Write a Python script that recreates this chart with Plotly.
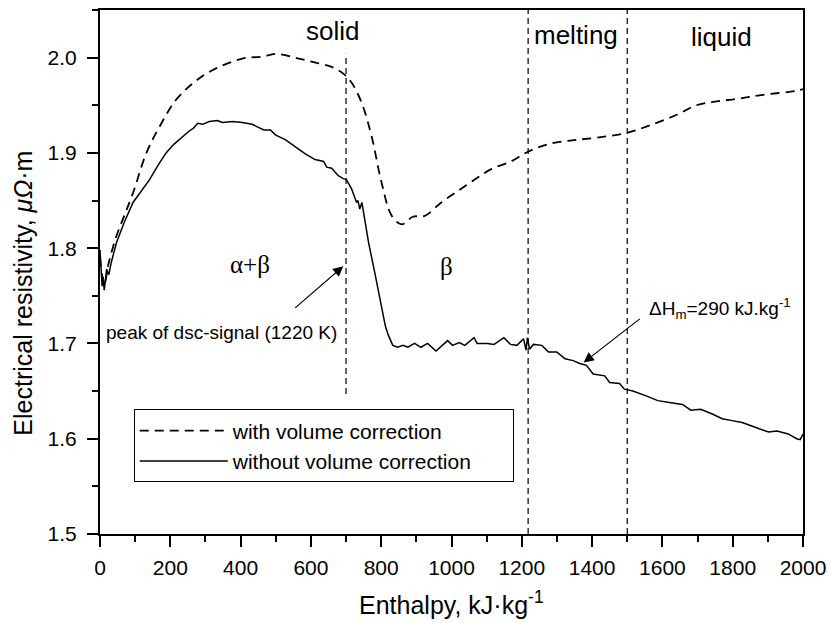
import plotly.graph_objects as go

# ---- data ----
enthalpy_solid = [0, 3, 6, 9, 12, 15, 19, 25, 32, 47, 70, 94, 120, 141, 165, 188, 210, 226, 240, 254,
                  266, 278, 292, 311, 334, 348, 377, 405, 433, 452, 466, 485, 499, 527, 555, 584, 612, 636, 645, 659,
                  678, 692, 701, 716, 725, 730, 734, 739, 745, 752, 764, 783, 801, 812, 820, 833, 847, 862, 876, 895,
                  913, 932, 956, 970, 989, 1003, 1022, 1038, 1050, 1064, 1073, 1102, 1121, 1149, 1168, 1186, 1205, 1212, 1216, 1222,
                  1233, 1257, 1276, 1299, 1323, 1346, 1365, 1384, 1403, 1436, 1450, 1478, 1492, 1516, 1554, 1587, 1620, 1657, 1681, 1709,
                  1742, 1770, 1798, 1827, 1864, 1902, 1926, 1958, 1982, 1992, 2000]
rho_without = [1.798, 1.775, 1.760, 1.770, 1.756, 1.765, 1.778, 1.772, 1.785, 1.806, 1.828, 1.848, 1.862, 1.872, 1.887, 1.900, 1.909, 1.914, 1.919, 1.923,
               1.926, 1.931, 1.930, 1.933, 1.934, 1.932, 1.933, 1.932, 1.930, 1.927, 1.924, 1.924, 1.919, 1.914, 1.907, 1.899, 1.893, 1.891, 1.885, 1.884,
               1.876, 1.873, 1.872, 1.862, 1.853, 1.848, 1.850, 1.841, 1.848, 1.832, 1.806, 1.772, 1.740, 1.718, 1.709, 1.698, 1.696, 1.698, 1.696, 1.700,
               1.696, 1.700, 1.692, 1.697, 1.703, 1.698, 1.701, 1.698, 1.702, 1.706, 1.700, 1.700, 1.699, 1.706, 1.699, 1.698, 1.705, 1.693, 1.706, 1.694,
               1.699, 1.698, 1.691, 1.691, 1.684, 1.682, 1.679, 1.677, 1.668, 1.666, 1.659, 1.658, 1.652, 1.650, 1.645, 1.640, 1.638, 1.636, 1.630, 1.631,
               1.626, 1.621, 1.619, 1.617, 1.612, 1.607, 1.608, 1.605, 1.600, 1.599, 1.605]

enthalpy_dashed = [0, 12, 25, 47, 70, 94, 132, 170, 217, 264, 321, 405, 462, 500, 566, 622, 660, 693, 717, 745,
                   773, 801, 830, 858, 890, 924, 971, 1018, 1066, 1113, 1169, 1216, 1273, 1339, 1414, 1499, 1565, 1641, 1697, 1754,
                   1820, 1886, 1980, 2000]
rho_with = [1.790, 1.762, 1.785, 1.813, 1.835, 1.858, 1.900, 1.928, 1.956, 1.973, 1.987, 1.999, 2.001, 2.004, 1.999, 1.994, 1.990, 1.983, 1.973, 1.952,
            1.917, 1.869, 1.834, 1.825, 1.833, 1.834, 1.848, 1.860, 1.872, 1.883, 1.891, 1.901, 1.909, 1.913, 1.916, 1.921, 1.929, 1.940, 1.950, 1.954,
            1.957, 1.961, 1.965, 1.967]

assert len(enthalpy_solid) == len(rho_without)
assert len(enthalpy_dashed) == len(rho_with)

series_names = ["with volume correction", "without volume correction"]
legend_pad = "\u00a0" * 6  # widens the legend box to match the reference frame

# phase boundaries (x) with their vertical extent (y0, y1)
boundary_x = [700, 1218, 1500]
boundary_y0 = [1.647, 1.5, 1.5]
boundary_y1 = [2.004, 2.05, 2.05]

# region labels
region_text = ["solid", "melting", "liquid"]
region_x = [661, 1353, 1768]
region_y = [2.028, 2.024, 2.022]

phase_text = ["α+β", "β"]
phase_x = [427, 986]
phase_y = [1.783, 1.781]

x_range = [0, 2000]
y_range = [1.5, 2.05]

FONT = "Liberation Sans, Arial, Helvetica, sans-serif"
SERIF = "Liberation Serif, Times New Roman, serif"

fig = go.Figure()
fig.add_trace(go.Scatter(x=enthalpy_dashed, y=rho_with, mode="lines", name=series_names[0],
                         line=dict(color="black", width=1.8, dash="9px,6px"), line_shape="spline"))
fig.add_trace(go.Scatter(x=enthalpy_solid, y=rho_without, mode="lines", name=series_names[1] + legend_pad,
                         line=dict(color="black", width=1.5)))

for bx, by0, by1 in zip(boundary_x, boundary_y0, boundary_y1):
    fig.add_shape(type="line", xref="x", yref="y", x0=bx, x1=bx, y0=by0, y1=by1,
                  line=dict(color="black", width=1.2, dash="6px,4px"))

annotations = []
for t, x, y in zip(region_text, region_x, region_y):
    annotations.append(dict(x=x, y=y, xref="x", yref="y", text=t, showarrow=False,
                            font=dict(family=FONT, size=26, color="black")))
for t, x, y in zip(phase_text, phase_x, phase_y):
    annotations.append(dict(x=x, y=y, xref="x", yref="y", text=t, showarrow=False,
                            font=dict(family=SERIF, size=25, color="black")))

# arrows
annotations.append(dict(x=692, y=1.781, ax=551, ay=1.736, xref="x", yref="y", axref="x", ayref="y",
                        text="", showarrow=True, arrowhead=2, arrowsize=1.7, arrowwidth=1.2, arrowcolor="black"))
annotations.append(dict(x=1376, y=1.680, ax=1540, ay=1.727, xref="x", yref="y", axref="x", ayref="y",
                        text="", showarrow=True, arrowhead=2, arrowsize=1.7, arrowwidth=1.2, arrowcolor="black"))
annotations.append(dict(x=345, y=1.711, xref="x", yref="y", text="peak of dsc-signal (1220 K)", showarrow=False,
                        font=dict(family=FONT, size=19, color="black")))
annotations.append(dict(x=1765, y=1.737, xref="x", yref="y",
                        text="ΔH<sub>m</sub>=290 kJ.kg<sup>-1</sup>", showarrow=False,
                        font=dict(family=FONT, size=19, color="black")))

# axis titles
annotations.append(dict(x=0.5, y=-0.131, xref="paper", yref="paper", xanchor="center", yanchor="middle",
                        text="Enthalpy, kJ·kg<sup>-1</sup>",
                        showarrow=False, font=dict(family=FONT, size=25, color="black")))
annotations.append(dict(x=-0.110, y=0.46, xref="paper", yref="paper", xanchor="center", yanchor="middle",
                        text="Electrical resistivity, <i>μΩ</i>·m",
                        textangle=-90, showarrow=False, font=dict(family=FONT, size=25, color="black")))

fig.update_layout(
    width=834, height=623,
    margin=dict(l=100, r=26, t=8, b=89),
    paper_bgcolor="white", plot_bgcolor="white",
    font=dict(family=FONT, size=21, color="black"),
    annotations=annotations,
    showlegend=True,
    legend=dict(x=0.048, y=0.2376, xanchor="left", yanchor="top",
                bordercolor="black", borderwidth=1, bgcolor="white",
                itemwidth=88,
                font=dict(family=FONT, size=21, color="black"), tracegroupgap=0),
    xaxis=dict(range=x_range, dtick=200, tickformat="d", showgrid=False, zeroline=False,
               showline=True, linecolor="black", linewidth=2, mirror=True,
               ticks="outside", ticklen=11, tickwidth=2, tickcolor="black",
               minor=dict(dtick=100, ticks="outside", ticklen=6, tickwidth=2, tickcolor="black"),
               tickfont=dict(family=FONT, size=21, color="black"), ticklabelstandoff=3),
    yaxis=dict(range=y_range, dtick=0.1, tickformat=".1f", showgrid=False, zeroline=False,
               showline=True, linecolor="black", linewidth=2, mirror=True,
               ticks="outside", ticklen=11, tickwidth=2, tickcolor="black",
               minor=dict(dtick=0.05, ticks="outside", ticklen=6, tickwidth=2, tickcolor="black"),
               tickfont=dict(family=FONT, size=21, color="black"), ticklabelstandoff=6),
)

fig.write_html("out.html")
